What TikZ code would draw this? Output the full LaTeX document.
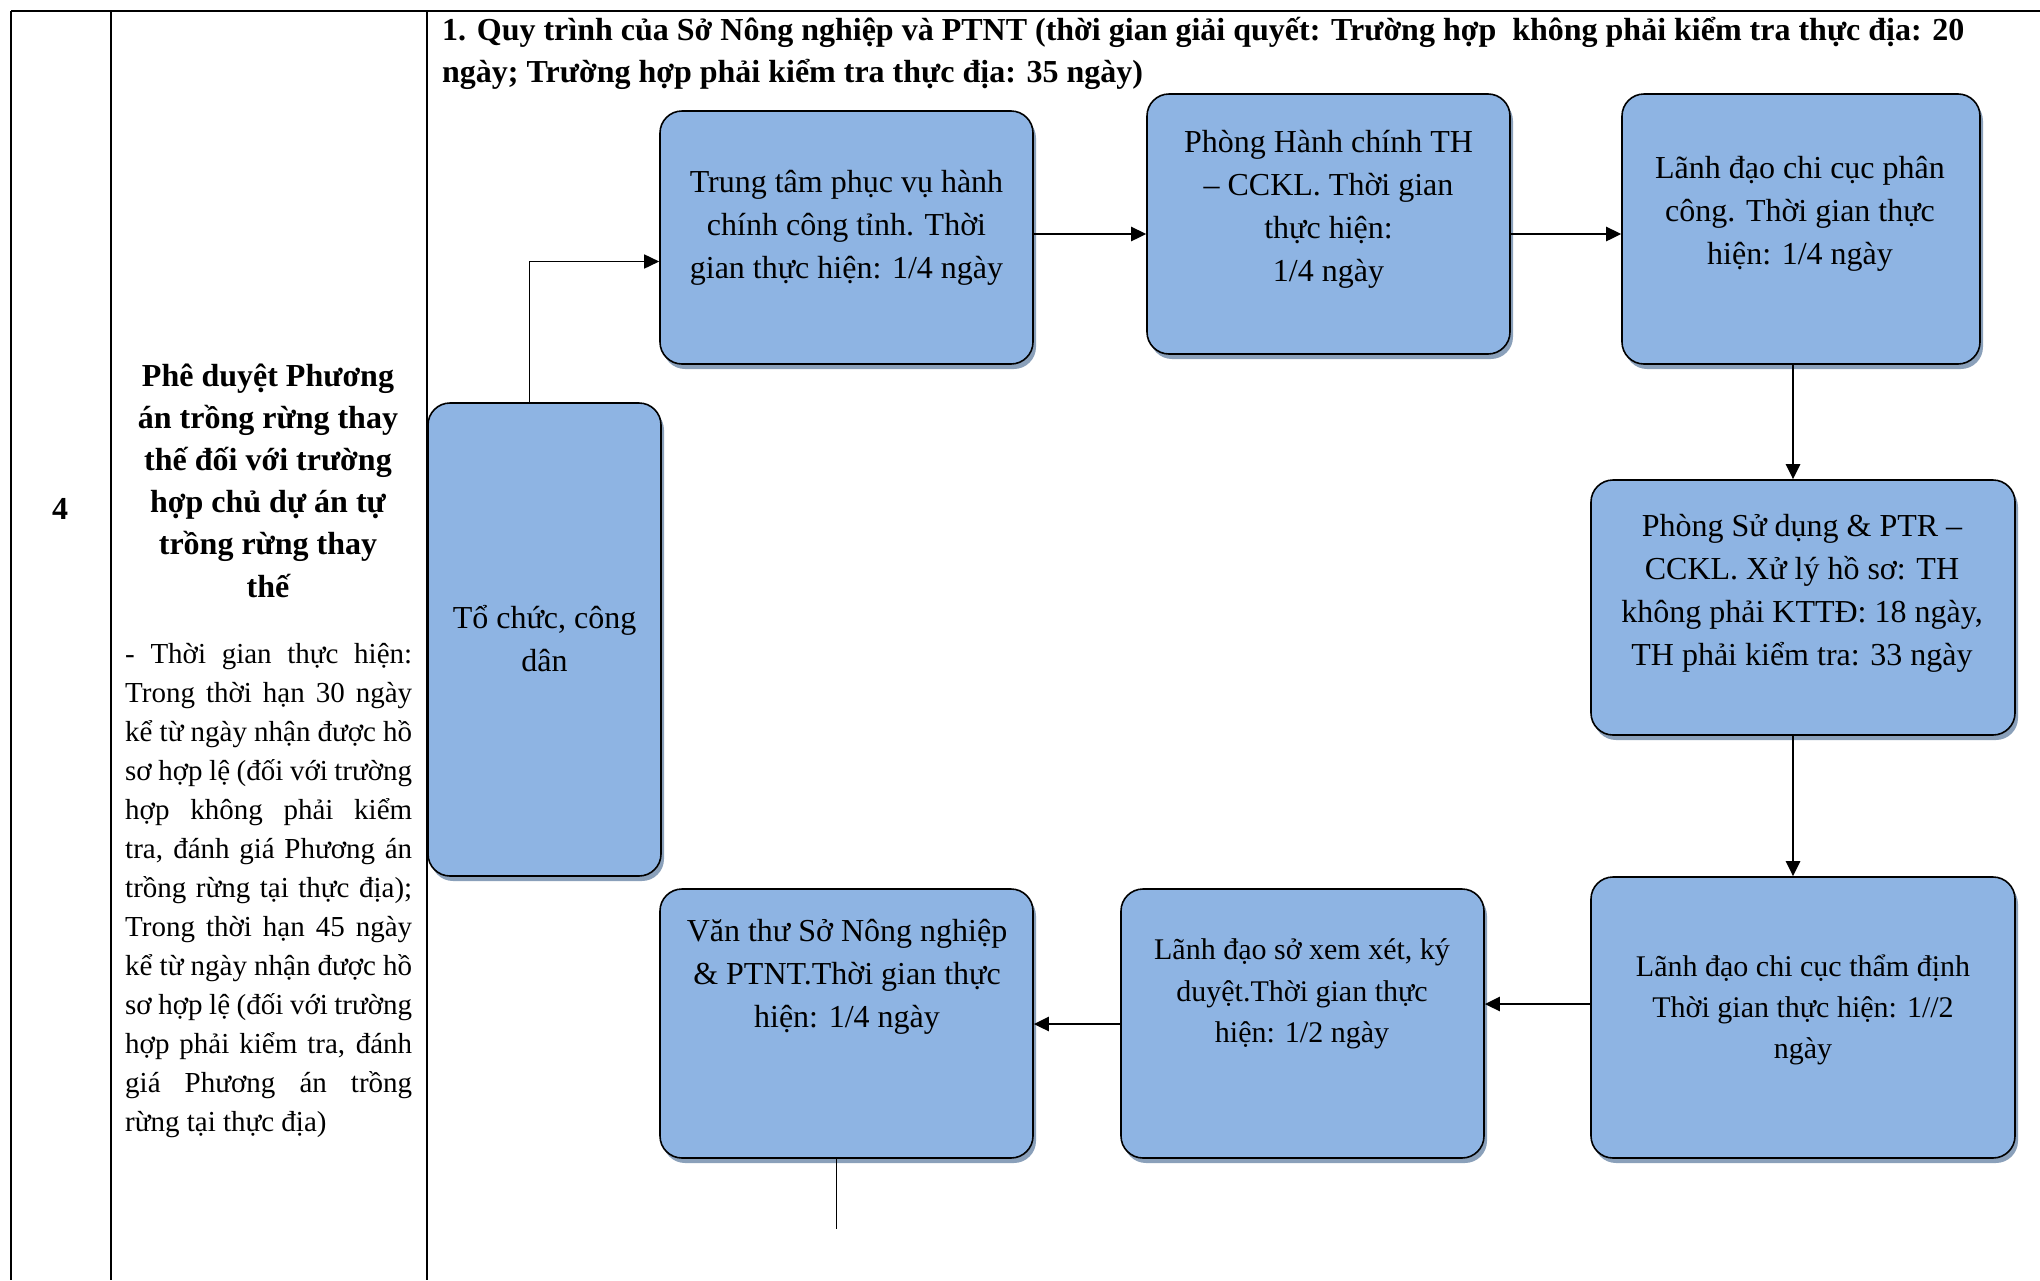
\documentclass[tikz,border=0pt]{standalone}
\usepackage{fontspec}
\setmainfont{Liberation Serif}
\usetikzlibrary{shadows,arrows.meta}
\definecolor{boxfill}{RGB}{142,180,227}
\definecolor{boxshade}{RGB}{138,160,186}
\newcommand\jline[1]{\makebox[287pt][s]{#1}}
\tikzset{
  stepbox/.style={draw=black, line width=1.6pt, fill=boxfill, rounded corners=22pt,
    drop shadow={shadow xshift=3pt, shadow yshift=-5pt, fill=boxshade, opacity=1},
    inner sep=0pt},
  boxtext/.style={align=center, font=\fontsize{32}{43}\selectfont, inner sep=0pt},
  flow/.style={line width=2.6pt, -{Triangle[length=15pt,width=14pt]}},
  thinflow/.style={line width=1.6pt, -{Triangle[length=15pt,width=14pt]}},
  rule/.style={line width=2.2pt},
}
\begin{document}
\begin{tikzpicture}[x=1pt,y=-1pt]
\useasboundingbox (0,0) rectangle (2040,1280);

% table grid
\draw[rule] (11,11) -- (2040,11);
\draw[rule] (11,11) -- (11,1280);
\draw[rule] (111,11) -- (111,1280);
\draw[rule] (427,11) -- (427,1280);

% row number and task description (base anchor = last line's baseline)
\node[font=\bfseries\fontsize{32}{38}\selectfont, inner sep=0pt] (num) at (60,509) {4};
\node[anchor=base, align=center, inner sep=0pt, font=\bfseries\fontsize{32}{42.2}\selectfont] (task) at (268,597)
  {Phê duyệt Phương\\án trồng rừng thay\\thế đối với trường\\hợp chủ dự án tự\\trồng rừng thay\\thế};
\node[anchor=base west, align=left, inner sep=0pt, font=\fontsize{29}{39}\selectfont] (deadline) at (125,1131)
  {\jline{- Thời gian thực hiện:}\\
   \jline{Trong thời hạn 30 ngày}\\
   \jline{kể từ ngày nhận được hồ}\\
   \jline{sơ hợp lệ (đối với trường}\\
   \jline{hợp không phải kiểm}\\
   \jline{tra, đánh giá Phương án}\\
   \jline{trồng rừng tại thực địa);}\\
   \jline{Trong thời hạn 45 ngày}\\
   \jline{kể từ ngày nhận được hồ}\\
   \jline{sơ hợp lệ (đối với trường}\\
   \jline{hợp phải kiểm tra, đánh}\\
   \jline{giá Phương án trồng}\\
   rừng tại thực địa)};

% heading of the procedure
\node[anchor=base west, align=left, inner sep=0pt, font=\bfseries\fontsize{32}{42}\selectfont] (title) at (442,82)
  {1. Quy trình của Sở Nông nghiệp và PTNT (thời gian giải quyết: Trường hợp\ \ không phải kiểm tra thực địa: 20\\
   ngày; Trường hợp phải kiểm tra thực địa: 35 ngày)};

% process steps
\node[stepbox, minimum width=233pt, minimum height=473pt] (toChuc) at (544.5,639.5) {};
\node[boxtext] (toChucT) at (544.5,639) {Tổ chức, công\\dân};

\node[stepbox, minimum width=373pt, minimum height=253pt] (trungTam) at (846.5,237.5) {};
\node[boxtext] (trungTamT) at (846.5,228) {Trung tâm phục vụ hành\\chính công tỉnh. Thời\\gian thực hiện: 1/4 ngày};

\node[stepbox, minimum width=363pt, minimum height=260pt] (phongHC) at (1328.5,224) {};
\node[boxtext] (phongHCT) at (1328.5,209) {Phòng Hành chính TH\\– CCKL. Thời gian\\thực hiện:\\1/4 ngày};

\node[stepbox, minimum width=358pt, minimum height=270pt] (ldPC) at (1801,229) {};
\node[boxtext] (ldPCT) at (1800,214) {Lãnh đạo chi cục phân\\công. Thời gian thực\\hiện: 1/4 ngày};

\node[stepbox, minimum width=424pt, minimum height=255pt] (phongSD) at (1803,607.5) {};
\node[boxtext] (phongSDT) at (1802,593) {Phòng Sử dụng \& PTR –\\CCKL. Xử lý hồ sơ: TH\\không phải KTTĐ: 18 ngày,\\TH phải kiểm tra: 33 ngày};

\node[stepbox, minimum width=424pt, minimum height=281pt] (ldTD) at (1803,1017.5) {};
\node[boxtext, font=\fontsize{30}{41}\selectfont] (ldTDT) at (1803,1010) {Lãnh đạo chi cục thẩm định\\Thời gian thực hiện: 1//2\\ngày};

\node[stepbox, minimum width=363pt, minimum height=269pt] (ldSo) at (1302.5,1023.5) {};
\node[boxtext, font=\fontsize{30}{41.5}\selectfont] (ldSoT) at (1302,994) {Lãnh đạo sở xem xét, ký\\duyệt.Thời gian thực\\hiện: 1/2 ngày};

\node[stepbox, minimum width=373pt, minimum height=269pt] (vanThu) at (846.5,1023.5) {};
\node[boxtext] (vanThuT) at (847,977) {Văn thư Sở Nông nghiệp\\\& PTNT.Thời gian thực\\hiện: 1/4 ngày};

% connectors
\coordinate (kA) at (529.5,261.5);
\draw[thinflow] (toChuc.north -| kA) |- (trungTam.west |- kA);
\coordinate (kB) at (0,234);
\draw[flow] (trungTam.east |- kB) -- (phongHC.west |- kB);
\draw[flow] (phongHC.east |- kB) -- (ldPC.west |- kB);
\coordinate (kC) at (1793,0);
\draw[flow] (ldPC.south -| kC) -- (phongSD.north -| kC);
\draw[flow] (phongSD.south -| kC) -- (ldTD.north -| kC);
\coordinate (kD) at (0,1004);
\draw[flow] (ldTD.west |- kD) -- (ldSo.east |- kD);
\coordinate (kE) at (0,1024);
\draw[flow] (ldSo.west |- kE) -- (vanThu.east |- kE);
\coordinate (kF) at (836.5,1229);
\draw[line width=1.6pt] (vanThu.south -| kF) -- (kF);
\end{tikzpicture}
\end{document}
